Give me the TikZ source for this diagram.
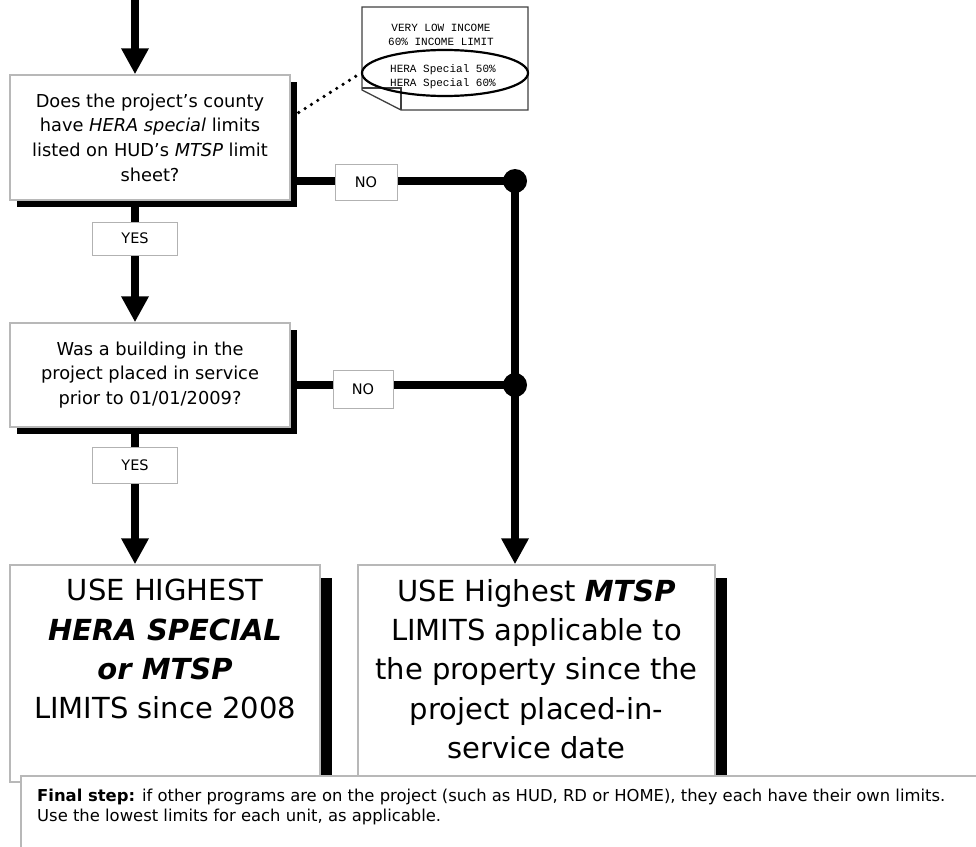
\documentclass[tikz,border=0pt]{standalone}
\usepackage{fontspec}
\setmainfont{DejaVu Sans}
\newfontfamily\monof{Liberation Mono}
\usetikzlibrary{arrows.meta,shapes.geometric,shadows}
\begin{document}
\begin{tikzpicture}[x=1pt,y=-1pt,
  qbox/.style={draw=black!28, line width=1.5pt, fill=white, align=center, inner sep=0pt,
    font=\fontsize{17.8}{24.7}\selectfont,
    drop shadow={shadow xshift=6.5pt, shadow yshift=-7pt, fill=black, opacity=1}},
  rbox/.style={draw=black!28, line width=1.5pt, fill=white, inner sep=0pt,
    drop shadow={shadow xshift=12pt, shadow yshift=-13pt, fill=black, opacity=1}},
  bigtext/.style={align=center, inner sep=0pt, font=\fontsize{29}{39.3}\selectfont},
  lbl/.style={draw=black!30, line width=1pt, fill=white, inner sep=0pt,
    font=\fontsize{14.5}{16}\selectfont},
  conn/.style={line width=8pt},
  arr/.style={conn, -{Triangle[length=26pt,width=26pt]}},
  ]
\useasboundingbox (0,0) rectangle (976,846);

% callout document
\draw[black!75, line width=1.3pt, fill=white]
  (362,7) -- (528,7) -- (528,110) -- (401,110) -- (362,90) -- cycle;
\draw[black!75, line width=1.3pt] (362,88) -- (401,88) -- (401,110);
\node[font=\monof\fontsize{11}{13.5}\selectfont, align=center, inner sep=0pt] (doctop) at (441,35)
  {VERY LOW INCOME\\60\% INCOME LIMIT};
\node[font=\monof\fontsize{11}{13.5}\selectfont, align=center, inner sep=0pt] (docbot) at (443,76.5)
  {HERA Special 50\%\\HERA Special 60\%};
\node[draw, ellipse, line width=2.2pt, minimum width=166pt, minimum height=46pt, inner sep=0pt] (el) at (445,73) {};

% boxes
\node[qbox, minimum width=280pt, minimum height=125pt] (q1) at (150,137.5)
  {Does the project's county\\have \textit{HERA special} limits\\listed on HUD's \textit{MTSP} limit\\sheet?};
\node[qbox, minimum width=280pt, minimum height=104pt] (q2) at (150,375)
  {Was a building in the\\project placed in service\\prior to 01/01/2009?};
\node[rbox, minimum width=310pt, minimum height=217pt] (r1) at (165,673.5) {};
\node[rbox, minimum width=357pt, minimum height=217pt] (r2) at (536.5,673.5) {};
\node[bigtext, anchor=north] (t1) at (165,579)
  {USE HIGHEST\\\textbf{\textit{HERA SPECIAL}}\\\textbf{\textit{or MTSP}}\\LIMITS since 2008};
\node[bigtext, anchor=north] (t2) at (536.5,579)
  {USE Highest \textbf{\textit{MTSP}}\\LIMITS applicable to\\the property since the\\project placed-in-\\service date};

% dotted pointer
\draw[line width=3.6pt, line cap=round, dash pattern=on 0pt off 7.5pt]
  ([shift={(8pt,25pt)}]q1.east) -- (el.west);

% connectors
\coordinate (t0) at (135,0);
\coordinate (j1) at (515,181);
\coordinate (j2) at (515,385);
\draw[arr] (t0) -- (t0 |- q1.north);
\draw[arr] (t0 |- q1.south) -- (t0 |- q2.north);
\draw[arr] (t0 |- q2.south) -- (t0 |- r1.north);
\draw[conn] (q1.east |- j1) -- (j1);
\draw[conn] (q2.east |- j2) -- (j2);
\draw[arr] (j1) -- (j1 |- r2.north);
\fill (j1) circle[radius=12pt];
\fill (j2) circle[radius=12pt];

% labels
\node[lbl, minimum width=62pt, minimum height=36pt] (no1) at (366,182) {NO};
\node[lbl, minimum width=60pt, minimum height=38pt] (no2) at (363,389) {NO};
\node[lbl, minimum width=85pt, minimum height=33pt] (yes1) at (135,238.5) {YES};
\node[lbl, minimum width=85pt, minimum height=36pt] (yes2) at (135,465) {YES};

% final step
\node[draw=black!28, line width=1.5pt, fill=white, minimum width=970pt, minimum height=80pt, anchor=north west, inner sep=0pt] (fin) at (20,775) {};
\node[anchor=north west, align=left, inner sep=0pt, font=\fontsize{16.4}{20}\selectfont] (fintext) at (37,789)
  {\textbf{Final step:} if other programs are on the project (such as HUD, RD or HOME), they each have their own limits.\\Use the lowest limits for each unit, as applicable.};
\end{tikzpicture}
\end{document}
